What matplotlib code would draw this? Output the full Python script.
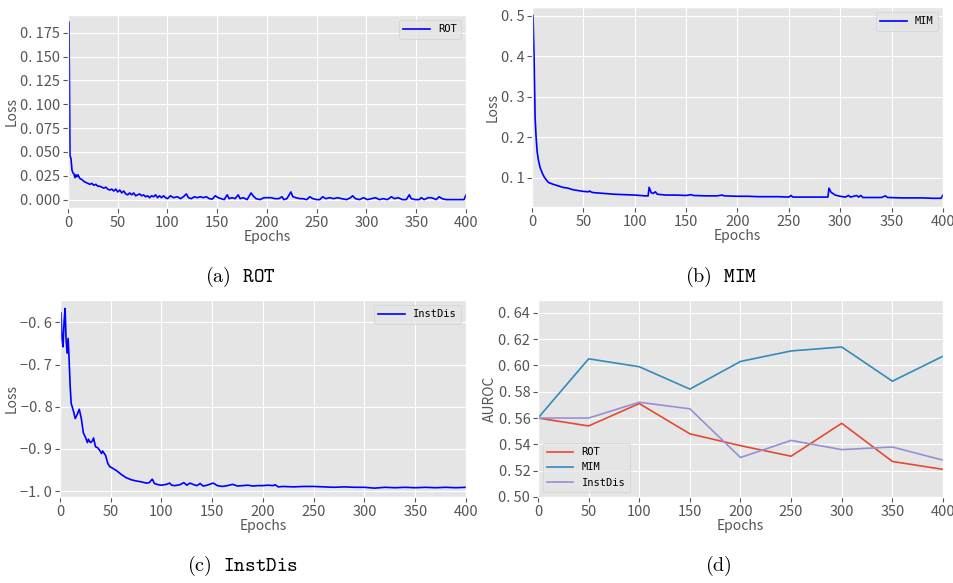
import matplotlib
matplotlib.use("Agg")
import matplotlib.pyplot as plt
from matplotlib.ticker import FuncFormatter, MultipleLocator

plt.style.use("ggplot")
plt.rcParams["font.family"] = ["Noto Sans CJK SC", "DejaVu Sans"]
plt.rcParams["mathtext.fontset"] = "cm"
plt.rcParams["axes.unicode_minus"] = True

# (a) ROT loss
rot_ep = [1, 2, 3, 4, 5, 6, 7, 8, 9, 10, 12, 14, 16, 18, 20, 22, 24, 26, 28, 30,
          32, 34, 36, 38, 40, 42, 44, 46, 48, 50, 52, 54, 56, 58, 60, 62, 64, 66, 68, 70,
          72, 74, 76, 78, 80, 82, 84, 86, 88, 90, 92, 94, 96, 98, 100, 103, 106, 110, 113, 116,
          119, 121, 124, 127, 130, 133, 136, 139, 142, 145, 148, 151, 154, 157, 160, 162, 165, 168, 171, 173,
          176, 180, 184, 186, 189, 193, 197, 200, 204, 208, 212, 215, 217, 220, 224, 226, 229, 233, 236, 240,
          243, 246, 250, 253, 256, 259, 263, 267, 271, 275, 280, 284, 286, 289, 293, 297, 301, 305, 309, 313,
          317, 321, 325, 328, 332, 336, 340, 343, 345, 349, 353, 355, 358, 362, 365, 368, 370, 373, 376, 380,
          385, 390, 395, 398, 400]
rot_loss = [0.186, 0.046, 0.043, 0.031, 0.028, 0.027, 0.023, 0.026, 0.024, 0.026, 0.022, 0.021, 0.019, 0.018, 0.017, 0.016, 0.017, 0.015, 0.016, 0.014,
            0.014, 0.013, 0.012, 0.013, 0.011, 0.010, 0.011, 0.009, 0.011, 0.008, 0.010, 0.007, 0.009, 0.006, 0.005, 0.007, 0.005, 0.007, 0.004, 0.005,
            0.006, 0.004, 0.005, 0.003, 0.004, 0.002, 0.004, 0.003, 0.005, 0.002, 0.004, 0.002, 0.004, 0.002, 0.001, 0.004, 0.002, 0.003, 0.001, 0.003,
            0.006, 0.002, 0.001, 0.003, 0.002, 0.003, 0.002, 0.003, 0.001, 0.0005, 0.004, 0.002, 0.001, 0.000, 0.005, 0.001, 0.002, 0.001, 0.005, 0.001,
            0.002, 0.000, 0.007, 0.004, 0.001, 0.000, 0.002, 0.002, 0.002, 0.001, 0.001, 0.003, 0.000, 0.001, 0.008, 0.003, 0.002, 0.001, 0.001, 0.000,
            0.003, 0.001, 0.000, 0.000, 0.003, 0.001, 0.002, 0.001, 0.002, 0.001, 0.000, 0.002, 0.004, 0.001, 0.000, 0.002, 0.000, 0.001, 0.002, 0.000,
            0.001, 0.000, 0.003, 0.001, 0.002, 0.000, 0.000, 0.005, 0.001, 0.000, 0.000, 0.002, 0.000, 0.002, 0.002, 0.001, 0.000, 0.003, 0.001, 0.000,
            0.000, 0.000, 0.000, 0.000, 0.005]

# (b) MIM loss
mim_ep = [1, 2, 3, 4, 5, 6, 7, 8, 10, 12, 14, 16, 18, 20, 25, 30, 35, 40, 45, 50,
          55, 56, 58, 60, 70, 80, 90, 100, 105, 110, 113, 114, 116, 118, 120, 122, 130, 140, 150, 155,
          157, 170, 180, 185, 187, 200, 210, 220, 230, 240, 250, 252, 254, 270, 280, 288, 289, 291, 295, 300,
          305, 308, 310, 316, 318, 320, 322, 330, 340, 344, 346, 360, 370, 380, 390, 398, 400]
mim_loss = [0.50, 0.40, 0.25, 0.20, 0.165, 0.148, 0.135, 0.125, 0.112, 0.102, 0.095, 0.089, 0.087, 0.085, 0.081, 0.077, 0.075, 0.071, 0.069, 0.067,
            0.066, 0.068, 0.065, 0.064, 0.062, 0.060, 0.059, 0.058, 0.057, 0.056, 0.056, 0.077, 0.064, 0.062, 0.066, 0.060, 0.058, 0.058, 0.057, 0.059,
            0.057, 0.056, 0.056, 0.058, 0.056, 0.055, 0.055, 0.054, 0.054, 0.054, 0.053, 0.057, 0.053, 0.053, 0.053, 0.053, 0.075, 0.065, 0.058, 0.055,
            0.053, 0.057, 0.053, 0.057, 0.053, 0.057, 0.052, 0.052, 0.052, 0.056, 0.052, 0.051, 0.051, 0.051, 0.050, 0.050, 0.058]

# (c) InstDis loss
inst_ep = [1, 2, 3, 4, 5, 6, 7, 8, 9, 10, 11, 13, 15, 17, 19, 21, 23, 25, 27, 28,
           30, 32, 33, 35, 37, 39, 41, 42, 44, 45, 47, 49, 52, 56, 60, 65, 70, 75, 80, 85,
           88, 90, 91, 93, 97, 100, 105, 108, 110, 113, 118, 122, 125, 128, 132, 135, 138, 141, 145, 151,
           155, 160, 165, 170, 175, 180, 185, 190, 195, 200, 205, 210, 212, 215, 220, 230, 240, 250, 260, 270,
           280, 290, 300, 310, 320, 330, 340, 350, 360, 370, 380, 390, 400]
inst_loss = [-0.577, -0.64, -0.658, -0.60, -0.567, -0.64, -0.673, -0.638, -0.69, -0.75, -0.792, -0.808, -0.828, -0.818, -0.806, -0.828, -0.862, -0.872, -0.885, -0.877,
             -0.885, -0.881, -0.874, -0.895, -0.897, -0.903, -0.911, -0.905, -0.912, -0.916, -0.934, -0.942, -0.946, -0.952, -0.960, -0.968, -0.973, -0.976, -0.978, -0.981,
             -0.980, -0.974, -0.972, -0.982, -0.985, -0.986, -0.984, -0.981, -0.986, -0.987, -0.985, -0.980, -0.986, -0.981, -0.985, -0.987, -0.982, -0.988, -0.986, -0.981,
             -0.987, -0.989, -0.987, -0.984, -0.988, -0.987, -0.986, -0.988, -0.987, -0.987, -0.986, -0.987, -0.985, -0.990, -0.989, -0.990, -0.989, -0.989, -0.990, -0.991,
             -0.990, -0.991, -0.991, -0.993, -0.991, -0.992, -0.991, -0.992, -0.991, -0.992, -0.991, -0.992, -0.991]

# (d) AUROC
auroc_ep = [0, 50, 100, 150, 200, 250, 300, 350, 400]
auroc_rot = [0.560, 0.554, 0.571, 0.548, 0.539, 0.531, 0.556, 0.527, 0.521]
auroc_mim = [0.560, 0.605, 0.599, 0.582, 0.603, 0.611, 0.614, 0.588, 0.607]
auroc_inst = [0.560, 0.560, 0.572, 0.567, 0.530, 0.543, 0.536, 0.538, 0.528]


def spaced(fmt):
    # tick labels look like "0. 175" in the original font
    return FuncFormatter(lambda v, p: fmt.format(v).replace(".", ". ").replace("-", "\u2212"))


fig = plt.figure(figsize=(9.54, 5.83), dpi=100)
W, H = 954, 583


def box(l, t, r, b):
    return [l / W, 1 - b / H, (r - l) / W, (b - t) / H]


ax_a = fig.add_axes(box(68, 15, 466, 208))
ax_b = fig.add_axes(box(532, 7, 943, 207))
ax_c = fig.add_axes(box(60, 300, 466, 497))
ax_d = fig.add_axes(box(538, 300, 943, 497))

leg_font = {"family": "DejaVu Sans Mono", "size": 7.5}

ax_a.plot(rot_ep, rot_loss, color="blue", lw=1.2, label="ROT")
ax_a.set_ylim(-0.0088, 0.1935)
ax_a.yaxis.set_major_locator(MultipleLocator(0.025))
ax_a.yaxis.set_major_formatter(spaced("{:.3f}"))

ax_b.plot(mim_ep, mim_loss, color="blue", lw=1.2, label="MIM")
ax_b.set_ylim(0.0286, 0.521)
ax_b.yaxis.set_major_locator(MultipleLocator(0.1))
ax_b.yaxis.set_major_formatter(spaced("{:.1f}"))

ax_c.plot(inst_ep, inst_loss, color="blue", lw=1.2, label="InstDis")
ax_c.set_ylim(-1.014, -0.547)
ax_c.yaxis.set_major_locator(MultipleLocator(0.1))
ax_c.yaxis.set_major_formatter(spaced("{:.1f}"))

for ax in (ax_a, ax_b, ax_c):
    ax.set_ylabel("Loss", fontsize=10, labelpad=1)
    ax.legend(loc="upper right", prop=leg_font, handlelength=2.5)

ax_d.plot(auroc_ep, auroc_rot, lw=1.2, label="ROT")
ax_d.plot(auroc_ep, auroc_mim, lw=1.2, label="MIM")
ax_d.plot(auroc_ep, auroc_inst, lw=1.2, label="InstDis")
ax_d.set_ylim(0.50, 0.6497)
ax_d.yaxis.set_major_locator(MultipleLocator(0.02))
ax_d.yaxis.set_major_formatter(spaced("{:.2f}"))
ax_d.set_ylabel("AUROC", fontsize=10, labelpad=1)
ax_d.legend(loc="lower left", prop=leg_font, handlelength=2.5)

for ax in (ax_a, ax_b, ax_c, ax_d):
    ax.set_xlim(0, 400)
    ax.xaxis.set_major_locator(MultipleLocator(50))
    ax.set_xlabel("Epochs", fontsize=10, labelpad=0)
    ax.tick_params(labelsize=10.5, pad=2)

cap = 14.5
fig.text(240 / W, 1 - 277 / H, r"$\mathrm{(a)}\ \ \mathtt{ROT}$", ha="center", va="center", fontsize=cap)
fig.text(721 / W, 1 - 277 / H, r"$\mathrm{(b)}\ \ \mathtt{MIM}$", ha="center", va="center", fontsize=cap)
fig.text(243 / W, 1 - 566 / H, r"$\mathrm{(c)}\ \ \mathtt{InstDis}$", ha="center", va="center", fontsize=cap)
fig.text(718 / W, 1 - 566 / H, r"$\mathrm{(d)}$", ha="center", va="center", fontsize=cap)

fig.savefig("out.png", dpi=100)
